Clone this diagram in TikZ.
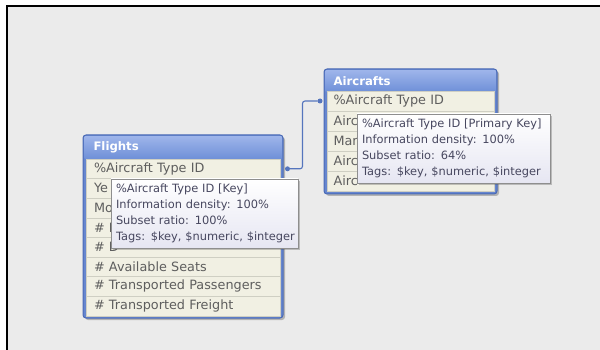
\documentclass[tikz,border=0pt]{standalone}
\usepackage{fontspec}
\newfontfamily\uifont{DejaVu Sans}
\usetikzlibrary{shadows,calc}
\definecolor{canvasbg}{HTML}{EBEBEB}
\definecolor{framefill}{HTML}{6686CF}
\definecolor{frameline}{HTML}{4A6AB5}
\definecolor{hdrtop}{HTML}{9DB4EA}
\definecolor{hdrbot}{HTML}{6F90D8}
\definecolor{rowfill}{HTML}{F1F0E3}
\definecolor{rowline}{HTML}{CFCFC3}
\definecolor{rowtext}{HTML}{5E5E5E}
\definecolor{tiptext}{HTML}{47475F}
\definecolor{tipborder}{HTML}{8E8E8E}
\definecolor{tipbot}{HTML}{E6E6F2}
\definecolor{conn}{HTML}{5575BD}
\begin{document}
\begin{tikzpicture}[x=1pt,y=-1pt,
  every node/.style={inner sep=0pt, outer sep=0pt},
  tframe/.style={anchor=north west, fill=framefill, draw=frameline, line width=1pt,
    rounded corners=3pt,
    drop shadow={shadow xshift=2pt, shadow yshift=-2pt, opacity=0.35, fill=black!70}},
  thead/.style={anchor=north west, top color=hdrtop, bottom color=hdrbot,
    text=white, align=left, font=\uifont\bfseries\fontsize{11.7}{13}\selectfont},
  trow/.style={anchor=north west, fill=rowfill, draw=rowline, line width=0.6pt,
    text=rowtext, align=left, font=\uifont\fontsize{12.8}{14}\selectfont},
  frow/.style={trow, minimum height=19.6pt, inner xsep=8pt, text width=178.5pt},
  arow/.style={trow, minimum height=20pt, inner xsep=6.5pt, text width=154pt},
  tip/.style={anchor=north west, top color=white, bottom color=tipbot, draw=tipborder,
    line width=0.8pt, text=tiptext, align=left, inner xsep=5pt, inner ysep=5pt,
    font=\uifont\fontsize{11.4}{16}\selectfont,
    drop shadow={shadow xshift=2pt, shadow yshift=-2pt, opacity=0.3, fill=black!70}},
  dot/.style={circle, fill=conn, minimum size=5pt},
  link/.style={draw=conn, line width=1.1pt, rounded corners=2.5pt}
]
\useasboundingbox (0,0) rectangle (600,350);
\fill[white] (0,0) rectangle (600,350);
\fill[canvasbg] (7,6) rectangle (600,350);
\draw[black, line width=2pt] (7,350) -- (7,6) -- (600,6);

% Flights table
\node[tframe, minimum width=200pt, minimum height=183pt] (fframe) at (83,135) {};
\node[thead, minimum width=197pt, minimum height=22pt, inner xsep=9pt, text width=179pt] (fhead) at (84.5,136.5) {Flights};
\node[frow] (f1) at (86,159) {\%Aircraft Type ID};
\node[frow] (f2) at (86,178.6) {Ye};
\node[frow] (f3) at (86,198.2) {Mo};
\node[frow] (f4) at (86,217.8) {\# D};
\node[frow] (f5) at (86,237.4) {\# D};
\node[frow] (f6) at (86,257) {\# Available Seats};
\node[frow] (f7) at (86,276.6) {\# Transported Passengers};
\node[frow] (f8) at (86,296.2) {\# Transported Freight};

% Aircrafts table
\node[tframe, minimum width=173pt, minimum height=125pt] (aframe) at (324,69) {};
\node[thead, minimum width=170pt, minimum height=21pt, inner xsep=8pt, text width=154pt] (ahead) at (325.5,70.5) {Aircrafts};
\node[arow] (a1) at (327,91) {\%Aircraft Type ID};
\node[arow] (a2) at (327,111) {Airc};
\node[arow] (a3) at (327,131) {Man};
\node[arow] (a4) at (327,151) {Airc};
\node[arow] (a5) at (327,171) {Airc};

% connector
\node[dot] (d1) at ($(f1.east)+(7,0)$) {};
\node[dot] (d2) at ($(a1.west)+(-7,0)$) {};
\draw[link] (d1) -- ($(d1)+(15,0)$) |- (d2);

% tooltips
\node[tip, minimum width=187pt, minimum height=69pt, text width=177pt] (ftip) at (111,179)
  {\mbox{\%Aircraft Type ID [Key]}\\\mbox{Information density: 100\%}\\\mbox{Subset ratio: 100\%}\\\mbox{Tags: \$key, \$numeric, \$integer}};
\node[tip, minimum width=193pt, minimum height=66pt, text width=183pt] (atip) at (357,114)
  {\mbox{\%Aircraft Type ID [Primary Key]}\\\mbox{Information density: 100\%}\\\mbox{Subset ratio: 64\%}\\\mbox{Tags: \$key, \$numeric, \$integer}};
\end{tikzpicture}
\end{document}
